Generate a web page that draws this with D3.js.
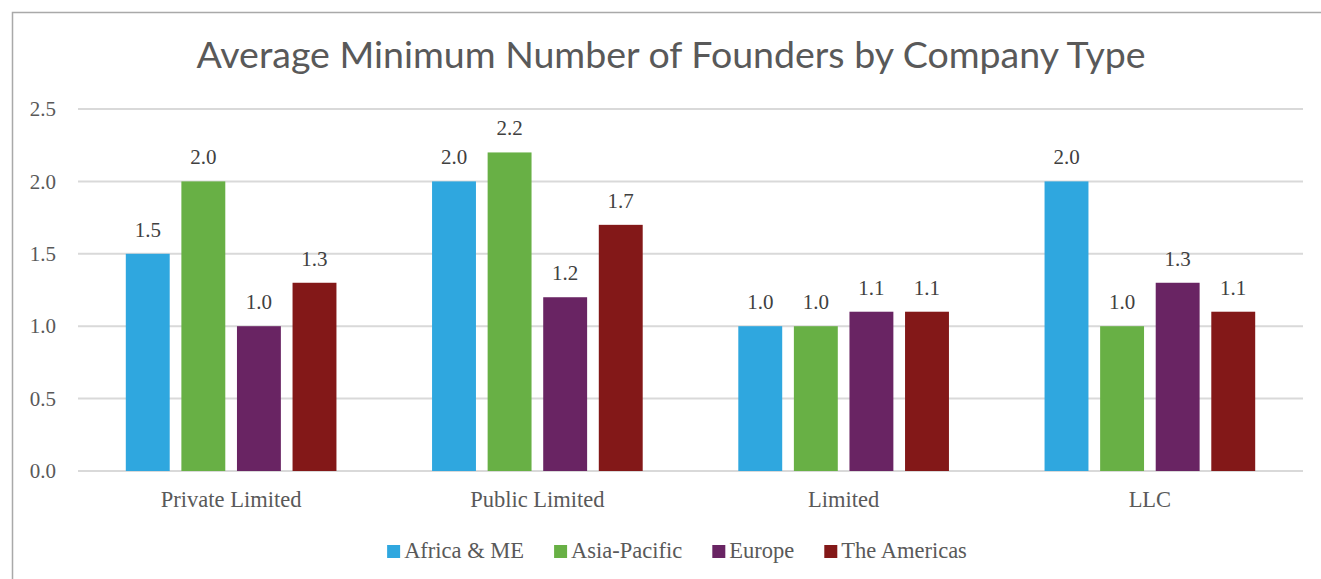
<!DOCTYPE html>
<html>
<head>
<meta charset="utf-8">
<script src="https://cdn.jsdelivr.net/npm/d3@7"></script>
<style>
  body { margin: 0; background: #fff; }
  svg { display: block; }
</style>
</head>
<body>
<svg width="1321" height="579"></svg>
<script>
// chart data
var categories = ['Private Limited', 'Public Limited', 'Limited', 'LLC'];
var seriesNames = ['Africa & ME', 'Asia-Pacific', 'Europe', 'The Americas'];
var africaME = [1.5, 2.0, 1.0, 2.0];
var asiaPacific = [2.0, 2.2, 1.0, 1.0];
var europe = [1.0, 1.2, 1.1, 1.3];
var americas = [1.3, 1.7, 1.1, 1.1];
var yTicks = [0, 0.5, 1.0, 1.5, 2.0, 2.5];
var colors = ['#2fa7df', '#68b045', '#692463', '#831818'];

var seriesValues = [africaME, asiaPacific, europe, americas];

var svg = d3.select('svg');
var margin = {top: 109, left: 78, right: 18, bottom: 108};
var width = 1303 - margin.left;
var height = 471 - margin.top;

// outer frame (runs past the right and bottom edges)
svg.append('rect')
  .attr('x', 12.5).attr('y', 12.5)
  .attr('width', 1340).attr('height', 620)
  .attr('fill', 'none')
  .attr('stroke', '#a9a9a9')
  .attr('stroke-width', 1.5);

svg.append('text')
  .attr('x', 671)
  .attr('y', 68)
  .attr('text-anchor', 'middle')
  .attr('font-family', 'Lato, sans-serif')
  .attr('font-size', 37.5)
  .attr('fill', '#595959')
  .text('Average Minimum Number of Founders by Company Type');

var g = svg.append('g')
  .attr('transform', 'translate(' + margin.left + ',' + margin.top + ')');

var x0 = d3.scaleBand()
  .domain(categories)
  .range([0, width])
  .padding(0);

var x1 = d3.scaleBand()
  .domain(seriesNames)
  .range([0, x0.bandwidth()])
  .paddingInner(0.21)
  .paddingOuter(0.86);

var y = d3.scaleLinear()
  .domain([0, 2.5])
  .range([height, 0]);

// gridlines
g.append('g')
  .selectAll('line')
  .data(yTicks)
  .enter().append('line')
  .attr('x1', 0)
  .attr('x2', width)
  .attr('y1', function(d) { return y(d); })
  .attr('y2', function(d) { return y(d); })
  .attr('stroke', '#d9d9d9')
  .attr('stroke-width', 2);

var yAxis = d3.axisLeft(y)
  .tickValues(yTicks)
  .tickSize(0)
  .tickPadding(22)
  .tickFormat(d3.format('.1f'));

g.append('g')
  .attr('class', 'axis axis--y')
  .call(yAxis)
  .call(function(a) { a.select('.domain').remove(); })
  .selectAll('text')
  .attr('font-family', '"Liberation Serif", serif')
  .attr('font-size', 21)
  .attr('fill', '#595959');

var xAxis = d3.axisBottom(x0)
  .tickSize(0)
  .tickPadding(20);

g.append('g')
  .attr('class', 'axis axis--x')
  .attr('transform', 'translate(0,' + height + ')')
  .call(xAxis)
  .call(function(a) { a.select('.domain').remove(); })
  .selectAll('text')
  .attr('font-family', '"Liberation Serif", serif')
  .attr('font-size', 22.5)
  .attr('fill', '#595959');

var groups = g.selectAll('.group')
  .data(categories)
  .enter().append('g')
  .attr('class', 'group')
  .attr('transform', function(c) { return 'translate(' + x0(c) + ',0)'; });

var cells = groups.selectAll('.cell')
  .data(function(c, i) {
    return seriesNames.map(function(s, j) {
      return {series: s, value: seriesValues[j][i], color: colors[j]};
    });
  })
  .enter();

cells.append('rect')
  .attr('x', function(d) { return x1(d.series); })
  .attr('y', function(d) { return y(d.value); })
  .attr('width', x1.bandwidth())
  .attr('height', function(d) { return height - y(d.value); })
  .attr('fill', function(d) { return d.color; });

cells.append('text')
  .attr('x', function(d) { return x1(d.series) + x1.bandwidth() / 2; })
  .attr('y', function(d) { return y(d.value) - 17; })
  .attr('text-anchor', 'middle')
  .attr('font-family', '"Liberation Serif", serif')
  .attr('font-size', 21)
  .attr('fill', '#404040')
  .text(function(d) { return d3.format('.1f')(d.value); });

// legend
var legend = svg.append('g').attr('transform', 'translate(0,558)');
var lx = 0;
var items = legend.selectAll('.item')
  .data(seriesNames)
  .enter().append('g')
  .attr('class', 'item');

items.append('rect')
  .attr('y', -13)
  .attr('width', 13)
  .attr('height', 13)
  .attr('fill', function(d, i) { return colors[i]; });

items.append('text')
  .attr('x', 17)
  .attr('font-family', '"Liberation Serif", serif')
  .attr('font-size', 22.5)
  .attr('fill', '#595959')
  .text(function(d) { return d; });

items.each(function() {
  var node = d3.select(this);
  node.attr('transform', 'translate(' + lx + ',0)');
  lx += 17 + node.select('text').node().getComputedTextLength() + 30;
});
lx -= 30;
legend.attr('transform', 'translate(' + (677 - lx / 2) + ',558)');
</script>
</body>
</html>
